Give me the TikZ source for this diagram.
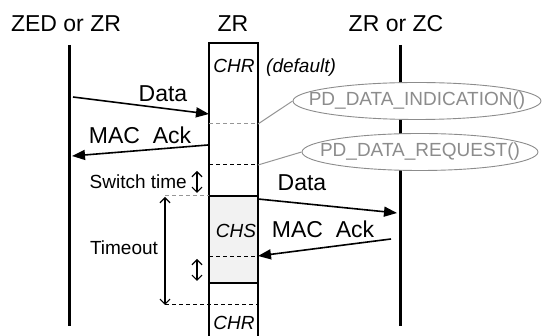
\documentclass[tikz,border=0pt]{standalone}
\usepackage{fontspec}
\setmainfont{Liberation Sans}
\usetikzlibrary{arrows.meta,shapes.geometric}
\definecolor{primgray}{RGB}{140,140,140}
\definecolor{linegray}{RGB}{150,150,150}
\definecolor{chsfill}{RGB}{242,242,242}
\begin{document}
\begin{tikzpicture}[x=1pt,y=-1pt,
  title/.style={font=\fontsize{23}{23}\selectfont, inner sep=0, anchor=base},
  msg/.style={font=\fontsize{23}{23}\selectfont, inner sep=0, anchor=base},
  lbl/.style={font=\fontsize{19}{19}\selectfont, inner sep=0, anchor=base},
  chan/.style={font=\itshape\fontsize{19}{19}\selectfont, inner sep=0, anchor=base},
  prim/.style={ellipse, draw=primgray, fill=white, line width=0.9pt, minimum width=248pt, minimum height=37pt, inner sep=0},
  primtext/.style={text=primgray, font=\fontsize{19}{19}\selectfont, inner sep=0},
  lifeline/.style={line width=3pt},
  boxline/.style={line width=1.5pt},
  msgarrow/.style={line width=1.6pt, -{Triangle[length=13pt,width=10pt]}},
  dashdark/.style={line width=1pt, dash pattern=on 4pt off 3pt},
  dashgray/.style={line width=1pt, dash pattern=on 4pt off 3pt, draw=linegray},
  grayline/.style={line width=1pt, draw=linegray},
  span/.style={line width=1.2pt, {Straight Barb[length=5pt,width=10pt]}-{Straight Barb[length=5pt,width=10pt]}}
]
\useasboundingbox (0,0) rectangle (542,336);

% titles
\node[title] (t1) at (66,32) {ZED or ZR};
\node[title] (t2) at (233,32) {ZR};
\node[title] (t3) at (396,32) {ZR or ZC};

% lifelines
\coordinate (Ltop) at (69,45);
\coordinate (Lbot) at (69,326);
\coordinate (Rtop) at (400,45);
\coordinate (Rbot) at (400,326);
\draw[lifeline] (Ltop) -- (Lbot);
\draw[lifeline] (Rtop) -- (Rbot);

% ZR box
\fill[chsfill] (209,196) rectangle (258,283);
\coordinate (BLb) at (209,337);
\coordinate (BLt) at (209,43);
\coordinate (BRt) at (258,43);
\coordinate (BRb) at (258,337);
\draw[boxline] (BLb) -- (BLt) -- (BRt) -- (BRb);
\draw[boxline] (209,196) -- (258,196);
\draw[boxline] (209,283) -- (258,283);
\coordinate (d1L) at (209,124); \coordinate (d1R) at (258,124);
\coordinate (d2L) at (209,165); \coordinate (d2R) at (258,165);
\draw[dashgray] (d1L) -- (d1R);
\draw[dashdark] (d2L) -- (d2R);
\draw[dashgray] (165,196) -- (209,196);
\draw[dashdark] (209,257) -- (258,257);
\draw[dashdark] (165,305) -- (258,305);

% channel labels
\node[chan] (chr1) at (234,73) {CHR};
\node[chan, anchor=base west] (def) at (266,73) {(default)};
\node[chan] (chs) at (236,238) {CHS};
\node[chan] (chr2) at (234,330) {CHR};

% primitives
\node[prim] (ind) at (417,101) {};
\node[primtext] at (ind.center) {PD\_DATA\_INDICATION()};
\node[prim, minimum width=236pt] (req) at (420,152) {};
\node[primtext] at (req.center) {PD\_DATA\_REQUEST()};
\draw[grayline] (d1R) -- (ind.west);
\draw[grayline] (d2R) -- (req.west);

% messages
\coordinate (m1s) at (73,97);  \coordinate (m1e) at (209,114);
\coordinate (m2s) at (208,145); \coordinate (m2e) at (72,156);
\coordinate (m3s) at (258,199); \coordinate (m3e) at (397,213);
\coordinate (m4s) at (391,239); \coordinate (m4e) at (258,256);
\draw[msgarrow] (m1s) -- (m1e);
\draw[msgarrow] (m2s) -- (m2e);
\draw[msgarrow] (m3s) -- (m3e);
\draw[msgarrow] (m4s) -- (m4e);
\node[msg] (l1) at (163,102) {Data};
\node[msg] (l2) at (140,144) {MAC\ \ Ack};
\node[msg] (l3) at (302,191) {Data};
\node[msg] (l4) at (323,238) {MAC\ \ Ack};

% time spans
\node[lbl, anchor=base east] (sw) at (187,189) {Switch time};
\coordinate (s1a) at (197,171); \coordinate (s1b) at (197,193);
\draw[span] (s1a) -- (s1b);
\node[lbl] (to) at (124,255) {Timeout};
\coordinate (toa) at (165,197); \coordinate (tob) at (165,305);
\draw[span] (toa) -- (tob);
\coordinate (s2a) at (197,259); \coordinate (s2b) at (197,281);
\draw[span] (s2a) -- (s2b);
\end{tikzpicture}
\end{document}
